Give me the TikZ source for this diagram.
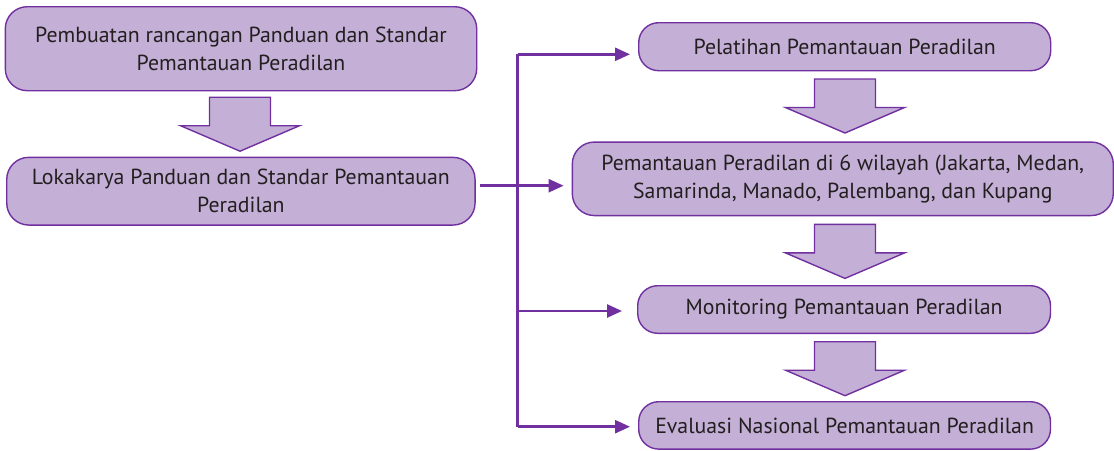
\documentclass[tikz,border=0pt]{standalone}
\usepackage{fontspec}
\setmainfont{PT Sans}
\usetikzlibrary{arrows.meta,calc}
\definecolor{boxfill}{HTML}{C4AFD6}
\definecolor{purp}{HTML}{7030A0}
\definecolor{txt}{HTML}{231F20}
\tikzset{
  box/.style={draw=purp, line width=1.4pt, fill=boxfill, rounded corners=22pt,
    inner sep=0pt, align=center, text=txt, font=\fontsize{21.8}{28}\selectfont},
  conn/.style={draw=purp, line width=2.5pt},
  tipped/.style={conn, -{Triangle[length=15pt,width=13pt]}},
  barrow/.style={draw=purp, line width=1.4pt, fill=boxfill, line join=miter},
  blockarrow/.pic={\path[barrow] (-30.5,0) -- (30.5,0) -- (30.5,28.5) -- (59.5,28.5)
     -- (0,54) -- (-59.5,28.5) -- (-30.5,28.5) -- cycle;}
}
\begin{document}
\begin{tikzpicture}[x=1pt,y=-1pt]
\useasboundingbox (0,0) rectangle (1114,450);
\node[box, minimum width=471.4pt, minimum height=84pt] (b1) at (241,48.7)
  {Pembuatan rancangan Panduan dan Standar\\Pemantauan Peradilan};
\node[box, minimum width=468.3pt, minimum height=67.7pt] (b2) at (240.9,191.2)
  {Lokakarya Panduan dan Standar Pemantauan\\Peradilan};
\node[box, rounded corners=20pt, minimum width=412pt, minimum height=48pt] (b3) at (844.7,46.7)
  {Pelatihan Pemantauan Peradilan};
\node[box, minimum width=541pt, minimum height=73.5pt] (b4) at (842.8,178.8)
  {Pemantauan Peradilan di 6 wilayah (Jakarta, Medan,\\Samarinda, Manado, Palembang, dan Kupang};
\node[box, rounded corners=20pt, minimum width=412.8pt, minimum height=47.6pt] (b5) at (844.1,309.5)
  {Monitoring Pemantauan Peradilan};
\node[box, rounded corners=20pt, minimum width=411.8pt, minimum height=47.4pt] (b6) at (844.6,425.4)
  {Evaluasi Nasional Pemantauan Peradilan};

\pic at (240,97.2) {blockarrow};
\pic at (845,79) {blockarrow};
\pic at (845,224.4) {blockarrow};
\pic at (845,341.7) {blockarrow};

\coordinate (s) at (480,185.7);
\coordinate (t1) at (517.7,54.3);
\coordinate (t4) at (517.7,426.7);
\coordinate (t3) at (517.7,311);

\draw[tipped] (s) -- ($(s -| b4.west)+(-8,0)$);
\draw[conn, line join=miter] (t4) -- (t1);
\draw[tipped] (t1) -- ($(t1 -| b3.west)+(-8,0)$);
\draw[tipped] (t3) -- ($(t3 -| b5.west)+(-15,0)$);
\draw[tipped] (t4) -- ($(t4 -| b6.west)+(-8,0)$);
\end{tikzpicture}
\end{document}
